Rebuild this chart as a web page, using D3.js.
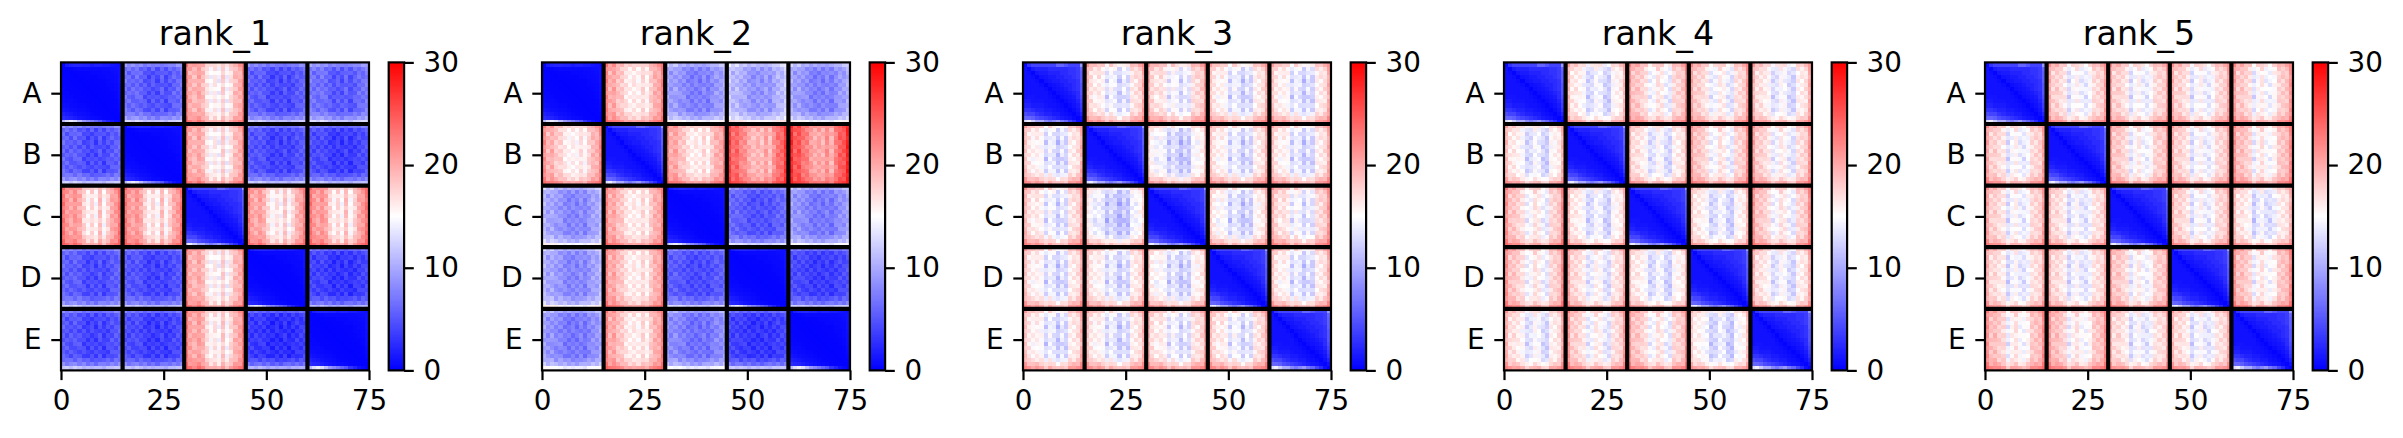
<!DOCTYPE html>
<html>
<head>
<meta charset="utf-8">
<script src="https://cdn.jsdelivr.net/npm/d3@7"></script>
<style>
  body { margin: 0; background: #fff; }
  text { font-family: "DejaVu Sans", sans-serif; fill: #000; }
</style>
</head>
<body>
<svg id="chart" width="2403" height="438"></svg>
<script>
// values
const ranks = ["rank_1", "rank_2", "rank_3", "rank_4", "rank_5"];
const chains = ["A", "B", "C", "D", "E"];
const xTicks = [0, 25, 50, 75];
const yTicks = [7.5, 22.5, 37.5, 52.5, 67.5];
const cbTicks = [0, 10, 20, 30];
const chainEdges = [15, 30, 45, 60];

// mean value of each chain pair block
const blockMeans = [
  [[1, 5.5, 18, 5, 6], [5, 1, 18, 4.5, 4], [19, 19, 2, 18.5, 19], [5, 4.5, 18, 1, 3.5], [4.5, 4, 18.5, 3, 1]],
  [[1, 18.5, 8.5, 10, 8.5], [18, 2, 18.5, 22, 23], [9, 18.5, 1, 5.5, 8], [9, 18.5, 5, 1, 4], [8, 18.5, 7.5, 3.5, 1]],
  [[2, 16, 16.5, 15.5, 15.5], [15.5, 2, 14.5, 15.5, 15.5], [16, 14, 2, 15, 16.5], [15.5, 15.5, 15, 2, 15.5], [15.5, 15.5, 16, 16, 2]],
  [[2, 15.5, 17.5, 17, 16], [15.5, 2, 16, 17.5, 17], [17.5, 15.5, 2, 15.5, 17.5], [17.5, 16.5, 15.5, 2, 16], [16, 17, 17.5, 15, 2]],
  [[2, 16.5, 16.5, 16.5, 17], [16.5, 2, 17, 16.5, 17.5], [16.5, 16, 2, 16.5, 15.5], [16, 16, 17, 2, 17.5], [17.5, 17.5, 16, 16, 2]]
];

// stripes across the 15 residues of a chain, as a ratio of the block mean
const colRatio = [
  [1.22, 1.1, 1.06, 1.12, 1.05, .92, .82, .9, .8, .98, .8, .93, 1.05, 1.1, 1.22],
  [1.2, 1.06, 1.1, 1.0, .98, .9, .86, .88, .85, .93, .85, .97, 1.06, 1.08, 1.22],
  [1.2, 1.07, 1.0, 1.03, .98, .82, .95, .88, .77, .88, .82, 1.03, 1.05, 1.1, 1.28],
  [1.22, 1.05, 1.05, 1.0, .95, .8, .85, .95, .92, .8, .78, .98, 1.0, 1.05, 1.25],
  [1.22, 1.06, 1.08, 1.02, .98, .78, .9, .95, .85, .82, .9, 1.03, 1.05, 1.08, 1.25]
];

// lift of each of the 15 rows of a block
const rowLift = [
  [3, .5, 0, 0, 0, 0, 0, 0, 0, 0, 0, 0, 1.5, 3.5, 8],
  [3, .5, 0, 0, 0, 0, 0, 0, 0, 0, 0, 0, 1.5, 3.5, 9],
  [5, 1, 0, 0, -1, 0, 0, -.5, -1.5, -.5, 0, 0, 2, 6, 10],
  [4, 1, 0, 0, 0, 0, 0, 0, -.5, 0, 0, 0, 1, 4, 9],
  [4, 1, 0, 0, 0, 0, 0, 0, -.5, 0, 0, 0, 1, 4, 9]
];

// cell to cell grain inside a block
const grainGain = 1.6;
const grain = [
  [.4, -.3, .5, -.5, .2, -.4, .6, -.2, .3, -.6, .4, .2, -.3, .5, -.2],
  [-.5, .6, -.2, .4, -.6, .3, -.4, .7, -.5, .2, -.3, .6, -.4, .1, .3],
  [.3, -.7, .4, .1, .6, -.3, .2, -.6, .5, -.1, .7, -.4, .3, -.5, .2],
  [-.2, .5, -.6, .7, -.3, .4, -.7, .3, -.2, .6, -.5, .1, .6, -.3, -.4],
  [.6, -.1, .3, -.4, .5, -.6, .1, .4, -.7, .3, -.2, .5, -.6, .4, .1],
  [-.4, .3, -.5, .2, -.7, .6, -.3, .5, .2, -.5, .4, -.7, .2, -.1, .5],
  [.2, -.6, .7, -.3, .4, -.1, .5, -.6, .3, .6, -.4, .3, -.5, .6, -.3],
  [-.6, .4, .1, .5, -.2, .3, -.5, .2, -.6, .4, .1, -.3, .7, -.4, .2],
  [.5, -.2, -.4, .3, .6, -.7, .4, -.1, .5, -.6, .3, .4, -.2, .3, -.5],
  [-.3, .7, -.3, -.5, .2, .4, -.6, .6, -.2, .3, -.7, .5, .1, -.6, .4],
  [.1, -.4, .6, -.2, -.5, .5, .2, -.4, .7, -.3, .2, -.6, .4, .3, -.1],
  [.5, .2, -.5, .4, .3, -.4, -.2, .5, -.3, .6, -.5, .2, -.3, -.2, .6],
  [-.4, .3, .4, -.6, .5, .1, .6, -.5, .2, -.4, .3, .5, -.6, .4, -.3],
  [.3, -.5, .2, .3, -.4, .6, -.3, .2, -.5, .1, .6, -.2, .3, -.5, .2],
  [-.2, .4, -.3, .5, .1, -.5, .4, -.3, .4, -.2, -.4, .3, -.1, .2, -.4]
];

// chain against itself, low scatter (mostly ranks 1 and 2)
const diagTight = [
  [.3, 1.5, 2, 2.2, 2.2, 2, 2, 1.5, 1.8, 1.8, 1.5, 1.5, 1.2, 1, .8],
  [.2, .1, .3, .4, .5, .5, .5, .5, .5, .5, .6, .6, .7, .8, 1],
  [.2, .2, .1, .2, .3, .3, .3, .4, .4, .4, .5, .5, .6, .7, 1],
  [.3, .2, .2, .1, .2, .2, .3, .3, .3, .4, .4, .5, .5, .6, 1],
  [.3, .3, .2, .2, .1, .2, .2, .2, .3, .3, .3, .4, .5, .6, 1],
  [.3, .3, .3, .2, .2, .1, .2, .2, .2, .3, .3, .4, .4, .5, .9],
  [.4, .3, .3, .3, .2, .2, .1, .2, .2, .2, .3, .3, .4, .5, .8],
  [.4, .4, .3, .3, .3, .2, .2, .1, .2, .2, .2, .3, .3, .4, .8],
  [.5, .4, .4, .3, .3, .3, .2, .2, .1, .2, .2, .2, .3, .4, .7],
  [.6, .5, .5, .4, .3, .3, .3, .2, .2, .1, .2, .2, .2, .3, .6],
  [.8, .7, .6, .5, .4, .4, .3, .3, .2, .2, .1, .2, .2, .3, .5],
  [1.2, 1, .8, .7, .6, .5, .4, .3, .3, .2, .2, .1, .2, .2, .4],
  [1.8, 1.5, 1.3, 1, .8, .7, .6, .4, .3, .3, .2, .2, .1, .2, .3],
  [2.5, 2.2, 2, 1.6, 1.2, 1, .8, .6, .5, .4, .3, .2, .2, .1, .2],
  [11, 13, 14, 13, 11, 9, 8, 7, 6, 5, 3, 2, 1, .5, .2]
];

// chain against itself, wider scatter (ranks 3 to 5, C in rank_1, B in rank_2)
const diagLoose = [
  [.6, 3, 4, 4, 4, 4, 4, 4, 6, 6, 5, 4, 4, 4, 9],
  [1, .4, 1.5, 2, 2, 2, 2.5, 2.5, 2.5, 2.5, 2.5, 3, 3, 3.5, 6],
  [1, .8, .3, 1.2, 1.5, 1.5, 2, 2, 2, 2.5, 2.5, 3, 3, 3.5, 5.5],
  [1, 1, .8, .3, 1, 1.2, 1.5, 1.5, 2, 2, 2.5, 2.5, 3, 3.5, 5.5],
  [1, 1, 1, .7, .2, 1, 1.2, 1.5, 1.5, 2, 2, 2.5, 2.5, 3, 5.5],
  [1, 1, 1, 1, .7, .2, .8, 1, 1.2, 1.5, 2, 2, 2.5, 3, 5],
  [1, 1, 1, 1, 1, .7, .2, .8, 1, 1.2, 1.5, 2, 2.5, 3, 5],
  [1, 1, 1, 1, 1, 1, .6, .2, .7, 1, 1.2, 1.5, 2, 2.5, 5],
  [1, 1.2, 1.2, 1, 1, 1, .8, .5, .2, .7, 1, 1.2, 1.5, 2.5, 4.5],
  [1.5, 1.5, 1.2, 1.2, 1.2, 1, 1, .8, .5, .2, .6, 1, 1.2, 2, 4],
  [2, 2, 1.5, 1.5, 1.5, 1.2, 1, 1, .8, .5, .2, .6, 1, 1.5, 3.5],
  [3, 3, 2.5, 2, 2, 1.5, 1.5, 1.2, 1, .8, .5, .2, .6, 1.2, 3],
  [4.5, 4, 4, 3, 2.5, 2, 2, 1.5, 1.5, 1, .8, .5, .2, .8, 2],
  [6, 6, 5.5, 4.5, 4, 3.5, 3, 2.5, 2, 1.5, 1.2, 1, .5, .2, 1],
  [13, 14, 12, 10, 10, 8, 7, 8, 9, 7, 6, 4, 2.5, .8, .3]
];

// which table each chain's own block follows
const diagKinds = [
  [diagTight, diagTight, diagLoose, diagTight, diagTight],
  [diagTight, diagLoose, diagTight, diagTight, diagTight],
  [diagLoose, diagLoose, diagLoose, diagLoose, diagLoose],
  [diagLoose, diagLoose, diagLoose, diagLoose, diagLoose],
  [diagLoose, diagLoose, diagLoose, diagLoose, diagLoose]
];

const panelLeft = [61, 542, 1023, 1504, 1985];
const plotSize = 308, plotTop = 62.4, plotBottom = plotTop + plotSize;
const cbGap = 327.7, cbWidth = 15.4;
const spine = 2.2, tickLen = 9.7, fontPx = 27.8;

const color = d3.scaleLinear().domain([0, 15, 30]).range(["#0000ff", "#ffffff", "#ff0000"]);

function cellValue(p, row, col) {
  const br = Math.floor(row / 15), bc = Math.floor(col / 15);
  const i = row % 15, j = col % 15;
  if (br === bc) return diagKinds[p][br][i][j];
  const v = blockMeans[p][br][bc] * colRatio[p][j] + grain[i][j] * grainGain;
  return Math.max(0, Math.min(30, v + rowLift[p][i] * (1 - v / 30)));
}

const svg = d3.select("#chart");
svg.append("rect").attr("width", 2403).attr("height", 438).attr("fill", "#fff");

function styleAxis(g) {
  g.select(".domain").remove();
  g.selectAll("line").attr("stroke", "#000").attr("stroke-width", spine);
  g.selectAll("text").style("font-size", fontPx + "px").style("font-family", '"DejaVu Sans", sans-serif');
}

ranks.forEach((rankName, p) => {
  const left = panelLeft[p];
  const x = d3.scaleLinear().domain([0, 75]).range([left, left + plotSize]);
  const y = d3.scaleLinear().domain([0, 75]).range([plotTop, plotBottom]);
  const g = svg.append("g");

  const cells = [];
  d3.range(75).forEach(row => d3.range(75).forEach(col => cells.push({ row, col, v: cellValue(p, row, col) })));

  g.append("g").attr("shape-rendering", "crispEdges")
    .selectAll("rect").data(cells).enter().append("rect")
    .attr("x", d => x(d.col))
    .attr("y", d => y(d.row))
    .attr("width", d => x(d.col + 1) - x(d.col))
    .attr("height", d => y(d.row + 1) - y(d.row))
    .attr("fill", d => color(d.v));

  // chain boundaries
  g.selectAll(".vline").data(chainEdges).enter().append("line")
    .attr("x1", d => x(d)).attr("x2", d => x(d)).attr("y1", plotTop).attr("y2", plotBottom)
    .attr("stroke", "#000").attr("stroke-width", 4.17);
  g.selectAll(".hline").data(chainEdges).enter().append("line")
    .attr("y1", d => y(d)).attr("y2", d => y(d)).attr("x1", left).attr("x2", left + plotSize)
    .attr("stroke", "#000").attr("stroke-width", 4.17);

  g.append("rect").attr("x", left).attr("y", plotTop).attr("width", plotSize).attr("height", plotSize)
    .attr("fill", "none").attr("stroke", "#000").attr("stroke-width", spine);

  g.append("g").attr("transform", `translate(0,${plotBottom})`)
    .call(d3.axisBottom(x).tickValues(xTicks).tickSizeInner(tickLen).tickSizeOuter(0).tickPadding(9.7))
    .call(styleAxis);
  g.append("g").attr("transform", `translate(${left},0)`)
    .call(d3.axisLeft(y).tickValues(yTicks).tickFormat((d, i) => chains[i]).tickSizeInner(tickLen).tickSizeOuter(0).tickPadding(9.7))
    .call(styleAxis);

  g.append("text").attr("x", left + plotSize / 2).attr("y", 45)
    .attr("text-anchor", "middle").style("font-size", "33.3px").text(rankName);

  // colorbar
  const cbLeft = left + cbGap;
  const cb = d3.scaleLinear().domain([0, 30]).range([plotBottom, plotTop]);
  const steps = d3.range(0, 256).map(k => k * 30 / 256);
  g.append("g").attr("shape-rendering", "crispEdges")
    .selectAll("rect").data(steps).enter().append("rect")
    .attr("x", cbLeft).attr("width", cbWidth)
    .attr("y", d => cb(d + 30 / 256))
    .attr("height", d => cb(d) - cb(d + 30 / 256) + .5)
    .attr("fill", d => color(d));
  g.append("rect").attr("x", cbLeft).attr("y", plotTop).attr("width", cbWidth).attr("height", plotSize)
    .attr("fill", "none").attr("stroke", "#000").attr("stroke-width", spine);
  g.append("g").attr("transform", `translate(${cbLeft + cbWidth},0)`)
    .call(d3.axisRight(cb).tickValues(cbTicks).tickSizeInner(tickLen).tickSizeOuter(0).tickPadding(9.7))
    .call(styleAxis);
});
</script>
</body>
</html>
